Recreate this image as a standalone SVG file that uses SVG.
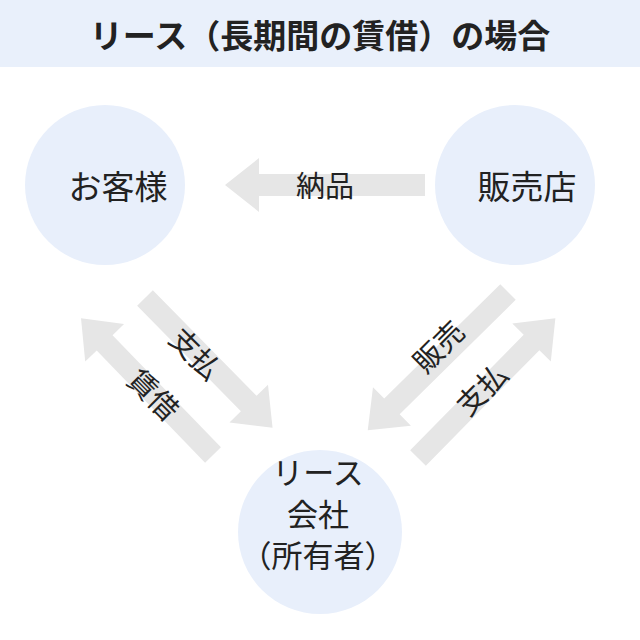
<svg xmlns="http://www.w3.org/2000/svg" width="640" height="640" viewBox="0 0 640 640">
<style>
text{font-family:"Noto Sans CJK JP","Noto Sans",sans-serif;fill:#222;text-anchor:middle;dominant-baseline:central}
.n{font-size:33px}
.b{font-size:31px}
.l{font-size:29px}
.c{fill:#e8effb}
.a{fill:#e6e6e6}
</style>
<rect width="640" height="640" fill="#fff"/>
<rect width="640" height="67" fill="#e9f0fb"/>
<text x="320" y="34" style="font-size:33px;font-weight:bold">リース（長期間の賃借）の場合</text>
<g id="connectors">
<g transform="translate(425,185) rotate(180)"><path class="a" d="M0,-11 H166 V-27 L200,0 L166,27 V11 H0 Z"/></g>
<g transform="translate(145,298) rotate(45.5)"><path class="a" d="M0,-11 H148 V-27 L182,0 L148,27 V11 H0 Z"/></g>
<g transform="translate(213,455) rotate(226)"><path class="a" d="M0,-11 H156 V-27 L190,0 L156,27 V11 H0 Z"/></g>
<g transform="translate(508,292) rotate(135.4)"><path class="a" d="M0,-11 H163 V-27 L197,0 L163,27 V11 H0 Z"/></g>
<g transform="translate(418,458) rotate(-45.5)"><path class="a" d="M0,-11 H162 V-27 L196,0 L162,27 V11 H0 Z"/></g>
<text class="l" x="325" y="184">納品</text>
<text class="l" transform="translate(197,352) rotate(45)">支払</text>
<text class="l" transform="translate(155,393) rotate(45)">賃借</text>
<text class="l" transform="translate(437,345) rotate(-45)">販売</text>
<text class="l" transform="translate(480,388) rotate(-45)">支払</text>
</g>
<g id="customer"><circle class="c" cx="105" cy="185" r="80"/><text class="n" x="118" y="185">お客様</text></g>
<g id="shop"><circle class="c" cx="515" cy="185" r="80"/><text class="n" x="527" y="185">販売店</text></g>
<g id="lease"><circle class="c" cx="320" cy="532" r="82"/>
<text class="b" x="318" y="470">リース</text><text class="b" x="318" y="512">会社</text><text class="b" x="318" y="553">（所有者）</text></g>
</svg>
